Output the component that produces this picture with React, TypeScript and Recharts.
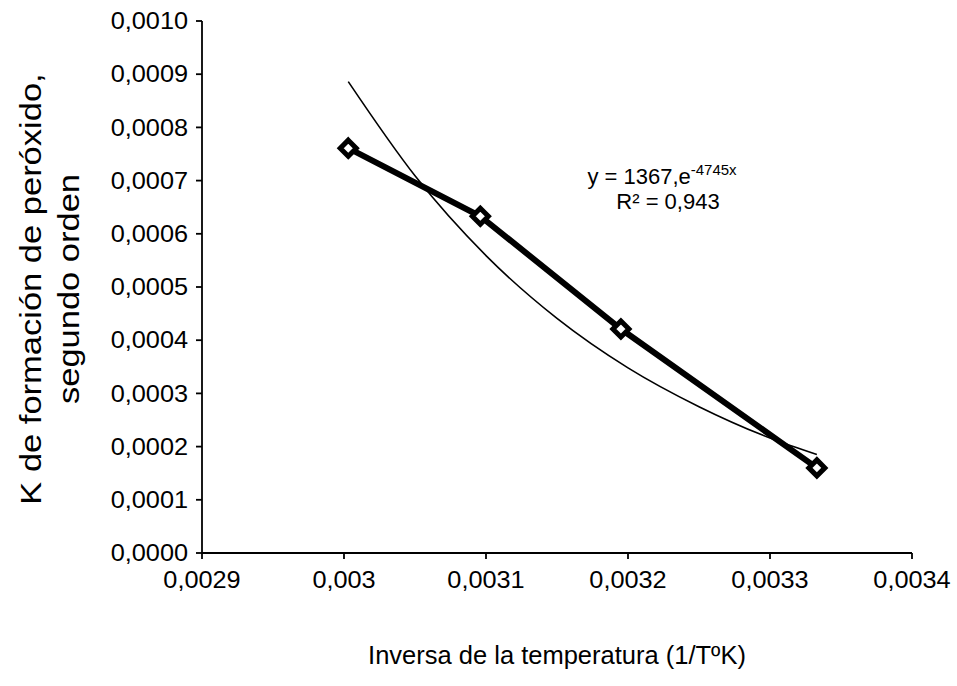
import React from "react";
import { ComposedChart, Line, XAxis, YAxis, Label, Customized } from "recharts";

// Measured data: inverse temperature (1/K) vs second-order peroxide formation constant
const invTemperature = [0.003003, 0.003096, 0.003195, 0.003333];
const kFormation = [0.000761, 0.000633, 0.000421, 0.00016];

// Exponential trend line (y = 1367·e^(-4745x))
const trendX = [0.003003, 0.00305, 0.0031, 0.00315, 0.0032, 0.00325, 0.0033, 0.003333];
const trendY = [0.000886, 0.000709, 0.000559, 0.000441, 0.000348, 0.000275, 0.000216, 0.000185];

const xTicks = [0.0029, 0.003, 0.0031, 0.0032, 0.0033, 0.0034];
const yTicks = [0, 0.0001, 0.0002, 0.0003, 0.0004, 0.0005, 0.0006, 0.0007, 0.0008, 0.0009, 0.001];

const equationText = "y = 1367,e";
const equationExp = "-4745x";
const r2Text = "R² = 0,943";
const xTitle = "Inversa de la temperatura (1/TºK)";
const yTitle1 = "K de formación de peróxido,";
const yTitle2 = "segundo orden";

const measured = invTemperature.map((x, i) => ({ x, k: kFormation[i] }));
const trend = trendX.map((x, i) => ({ x, t: trendY[i] }));

const FONT = "'Liberation Sans', Arial, sans-serif";

const fmtY = (v: number) => v.toFixed(4).replace(".", ",");
const fmtX = (v: number) => String(Number(v.toFixed(4))).replace(".", ",");

const Diamond = (props: any) => {
  const { cx, cy } = props;
  if (cx == null || cy == null) return null;
  const r = 8;
  return (
    <path
      d={`M${cx},${cy - r} L${cx + r},${cy} L${cx},${cy + r} L${cx - r},${cy} Z`}
      fill="#fff"
      stroke="#000"
      strokeWidth={5}
    />
  );
};

const YTick = (props: any) => {
  const { x, y, payload } = props;
  return (
    <text
      transform={`translate(${x},${y}) scale(1.1,1)`}
      x={0}
      y={0}
      dy="0.36em"
      textAnchor="end"
      fontFamily={FONT}
      fontSize={23}
      fill="#000"
    >
      {fmtY(payload.value)}
    </text>
  );
};

const XTick = (props: any) => {
  const { x, y, payload } = props;
  return (
    <text
      transform={`translate(${x},${y}) scale(1.1,1)`}
      x={0}
      y={0}
      dy="0.71em"
      textAnchor="middle"
      fontFamily={FONT}
      fontSize={23}
      fill="#000"
    >
      {fmtX(payload.value)}
    </text>
  );
};

const Annotation = () => (
  <g fontFamily={FONT} fill="#000">
    <text x={662} y={184} fontSize={22} textAnchor="middle">
      {equationText}
      <tspan fontSize={15} dy={-9}>{equationExp}</tspan>
    </text>
    <text x={668} y={209} fontSize={22} textAnchor="middle">
      {r2Text}
    </text>
  </g>
);

const YTitle = (props: any) => {
  const vb = props.viewBox || {};
  const cy = vb.y + vb.height / 2 + 2;
  return (
    <g fontFamily={FONT} fontSize={30} fill="#000">
      <text
        x={0}
        y={0}
        dy="0.35em"
        textAnchor="middle"
        transform={`translate(30,${cy}) rotate(-90) scale(1.15,1)`}
      >
        {yTitle1}
      </text>
      <text
        x={0}
        y={0}
        dy="0.35em"
        textAnchor="middle"
        transform={`translate(68,${cy}) rotate(-90) scale(1.15,1)`}
      >
        {yTitle2}
      </text>
    </g>
  );
};

const XTitle = (props: any) => {
  const vb = props.viewBox || {};
  const cx = vb.x + vb.width / 2;
  return (
    <text x={cx} y={664} fontFamily={FONT} fontSize={25.5} fill="#000" textAnchor="middle">
      {xTitle}
    </text>
  );
};

export default function App() {
  return (
    <div style={{ position: "absolute", left: 0, top: 0, width: 957, height: 686, background: "#fff" }}>
      <ComposedChart
        width={957}
        height={686}
        margin={{ top: 21, right: 45, bottom: 13, left: 0 }}
      >
        <XAxis
          dataKey="x"
          type="number"
          domain={[0.0029, 0.0034]}
          ticks={xTicks}
          tickFormatter={fmtX}
          allowDataOverflow
          height={120}
          stroke="#000"
          strokeWidth={1.8}
          tickSize={6}
          tickMargin={13}
          tick={<XTick />}
        >
          <Label content={<XTitle />} />
        </XAxis>
        <YAxis
          type="number"
          domain={[0, 0.001]}
          ticks={yTicks}
          tickFormatter={fmtY}
          allowDataOverflow
          width={202}
          stroke="#000"
          strokeWidth={1.8}
          tickSize={6}
          tickMargin={8}
          tick={<YTick />}
        >
          <Label content={<YTitle />} />
        </YAxis>
        <Line
          data={trend}
          dataKey="t"
          type="monotone"
          stroke="#000"
          strokeWidth={1.6}
          dot={false}
          activeDot={false}
          isAnimationActive={false}
        />
        <Line
          data={measured}
          dataKey="k"
          type="linear"
          stroke="#000"
          strokeWidth={6}
          dot={<Diamond />}
          activeDot={false}
          isAnimationActive={false}
        />
        <Customized component={<Annotation />} />
      </ComposedChart>
    </div>
  );
}
